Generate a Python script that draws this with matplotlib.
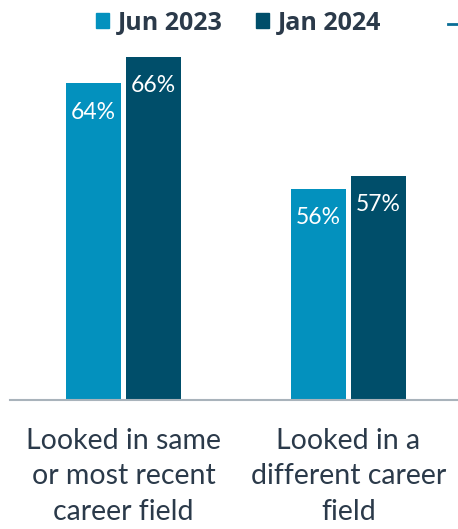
import matplotlib
matplotlib.use("Agg")
import matplotlib.pyplot as plt
import numpy as np
from matplotlib.patches import Patch
from matplotlib.lines import Line2D

# data
categories = ["Looked in same\nor most recent\ncareer field", "Looked in a\ndifferent career\nfield"]
series_names = ["Jun 2023", "Jan 2024"]
jun_2023 = [64, 56]
jan_2024 = [66, 57]

light = "#0391BE"
dark = "#004E6A"
text_col = "#2B3A4A"

fig = plt.figure(figsize=(4.58, 5.29), dpi=100)
ax = fig.add_axes([10 / 458, 129 / 529, 448 / 458, 396 / 529])

x = np.arange(len(categories))
w = 0.244
off = 0.133
b1 = ax.bar(x - off, jun_2023, w, color=light)
b2 = ax.bar(x + off, jan_2024, w, color=dark)

ax.set_ylim(40, 70)
ax.set_xlim(-0.504, 1.487)

for bars, vals in [(b1, jun_2023), (b2, jan_2024)]:
    for rect, v in zip(bars, vals):
        ax.annotate(f"{v}%", (rect.get_x() + rect.get_width() / 2, v),
                    xytext=(0, -29), textcoords="offset pixels",
                    ha="center", va="center", color="white",
                    fontsize=16.5, family=["Lato", "DejaVu Sans"])

for s in ["top", "right", "left"]:
    ax.spines[s].set_visible(False)
ax.spines["bottom"].set_color("#A9B3BB")
ax.spines["bottom"].set_linewidth(1.5)
ax.set_yticks([])
ax.set_xticks(x)
ax.set_xticklabels(categories, fontsize=20.5, color=text_col,
                   family=["Lato", "DejaVu Sans"], linespacing=1.45)
ax.tick_params(axis="x", length=0, pad=20)

handles = [Patch(color=light), Patch(color=dark)]
fig.legend(handles, series_names, loc="center", bbox_to_anchor=(0.521, 0.956),
           ncol=2, frameon=False, handlelength=0.55, handleheight=0.55,
           handletextpad=0.35, columnspacing=1.3,
           prop={"family": ["Open Sans", "DejaVu Sans"], "weight": "bold", "size": 18},
           labelcolor=text_col)
# clipped third legend item at the right edge
fig.add_artist(Line2D([448 / 458, 1.0], [1 - 24 / 529, 1 - 24 / 529],
                      color="#0A6E96", lw=2, transform=fig.transFigure))

fig.savefig("out.png", dpi=100)
